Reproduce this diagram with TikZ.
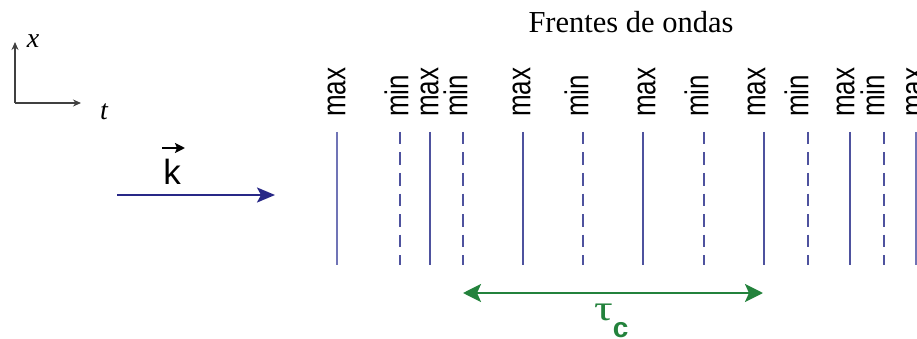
\documentclass[tikz,border=0pt]{standalone}
\usepackage{fontspec}
\setmainfont{Liberation Serif}
\setsansfont{Liberation Sans}
\usetikzlibrary{arrows.meta}
\definecolor{front}{RGB}{78,82,158}
\definecolor{frontlight}{RGB}{112,116,182}
\definecolor{kblue}{RGB}{40,40,135}
\definecolor{axisgray}{RGB}{64,64,64}
\definecolor{taugreen}{RGB}{35,130,60}
\tikzset{
  front max/.style={draw=front, line width=2.6pt},
  front max thin/.style={draw=frontlight, line width=1.6pt},
  front min/.style={draw=front, line width=2.6pt, dash pattern=on 12.5pt off 8pt},
  peak label/.style={rotate=90, anchor=base west, inner sep=0pt,
    font=\fontsize{26}{26}\sffamily},
  axis arrow/.style={draw=axisgray, line width=1.4pt,
    -{Stealth[length=8pt,width=7pt]}},
  axis label/.style={anchor=base, inner sep=0pt, font=\fontsize{28}{28}\itshape},
}
\begin{document}
\begin{tikzpicture}[x=1pt,y=-1pt]
\useasboundingbox (0,0) rectangle (917,339);
\clip (0,0) rectangle (917,339);

% axes
\coordinate (o) at (15,103);
\coordinate (xa) at (15,42);
\coordinate (ta) at (81,103);
\draw[axis arrow] (o) -- (xa);
\draw[axis arrow] (o) -- (ta);
\node[axis label] (xl) at (33,48) {x};
\node[axis label] (tl) at (104,120) {t};

% wave vector
\coordinate (k0) at (117,195);
\coordinate (k1) at (275,195);
\draw[kblue, line width=2.4pt,
  -{Stealth[length=18pt,width=15pt,inset=4pt]}] (k0) -- (k1);
\node[anchor=base, inner sep=0pt, font=\fontsize{35}{35}\sffamily] (klabel) at (172,185) {k};
\coordinate (va) at (162,148);
\coordinate (vb) at (185,148);
\draw[black, line width=2pt, -{Stealth[length=10pt,width=10pt,inset=2pt]}] (va) -- (vb);

% title
\node[anchor=base, inner sep=0pt, font=\fontsize{30.5}{30.5}\selectfont] (title) at (631,33) {Frentes de ondas};

% wave fronts: line x / label centre / kind
\foreach \lx/\cx/\kind/\txt in {
  400/400/front min/min, 430/430/front max/max, 463/459/front min/min,
  523/522/front max/max, 583/580/front min/min, 643/647/front max/max,
  704/700/front min/min, 764/757/front max/max, 808/800/front min/min,
  850/846/front max/max, 884/876/front min/min,
  337/337/front max thin/max, 916/915.5/front max thin/max}{
  \draw[\kind] (\lx,132) -- (\lx,265);
  \node[peak label] at (\cx+8.4,117) {\scalebox{1}[1.27]{\txt}};
}

% coherence time
\coordinate (cl) at (463,293);
\coordinate (cr) at (763,293);
\draw[taugreen, line width=2.6pt,
  {Stealth[length=18pt,width=18pt,inset=4pt]}-{Stealth[length=18pt,width=18pt,inset=4pt]}] (cl) -- (cr);
\node[taugreen, anchor=base west, inner sep=0pt] (tau) at (594,320)
  {\scalebox{1.55}[1.2]{\fontsize{30}{30}\selectfont τ}\raisebox{-17pt}{\fontsize{28}{28}\sffamily\bfseries c}};
\end{tikzpicture}
\end{document}
